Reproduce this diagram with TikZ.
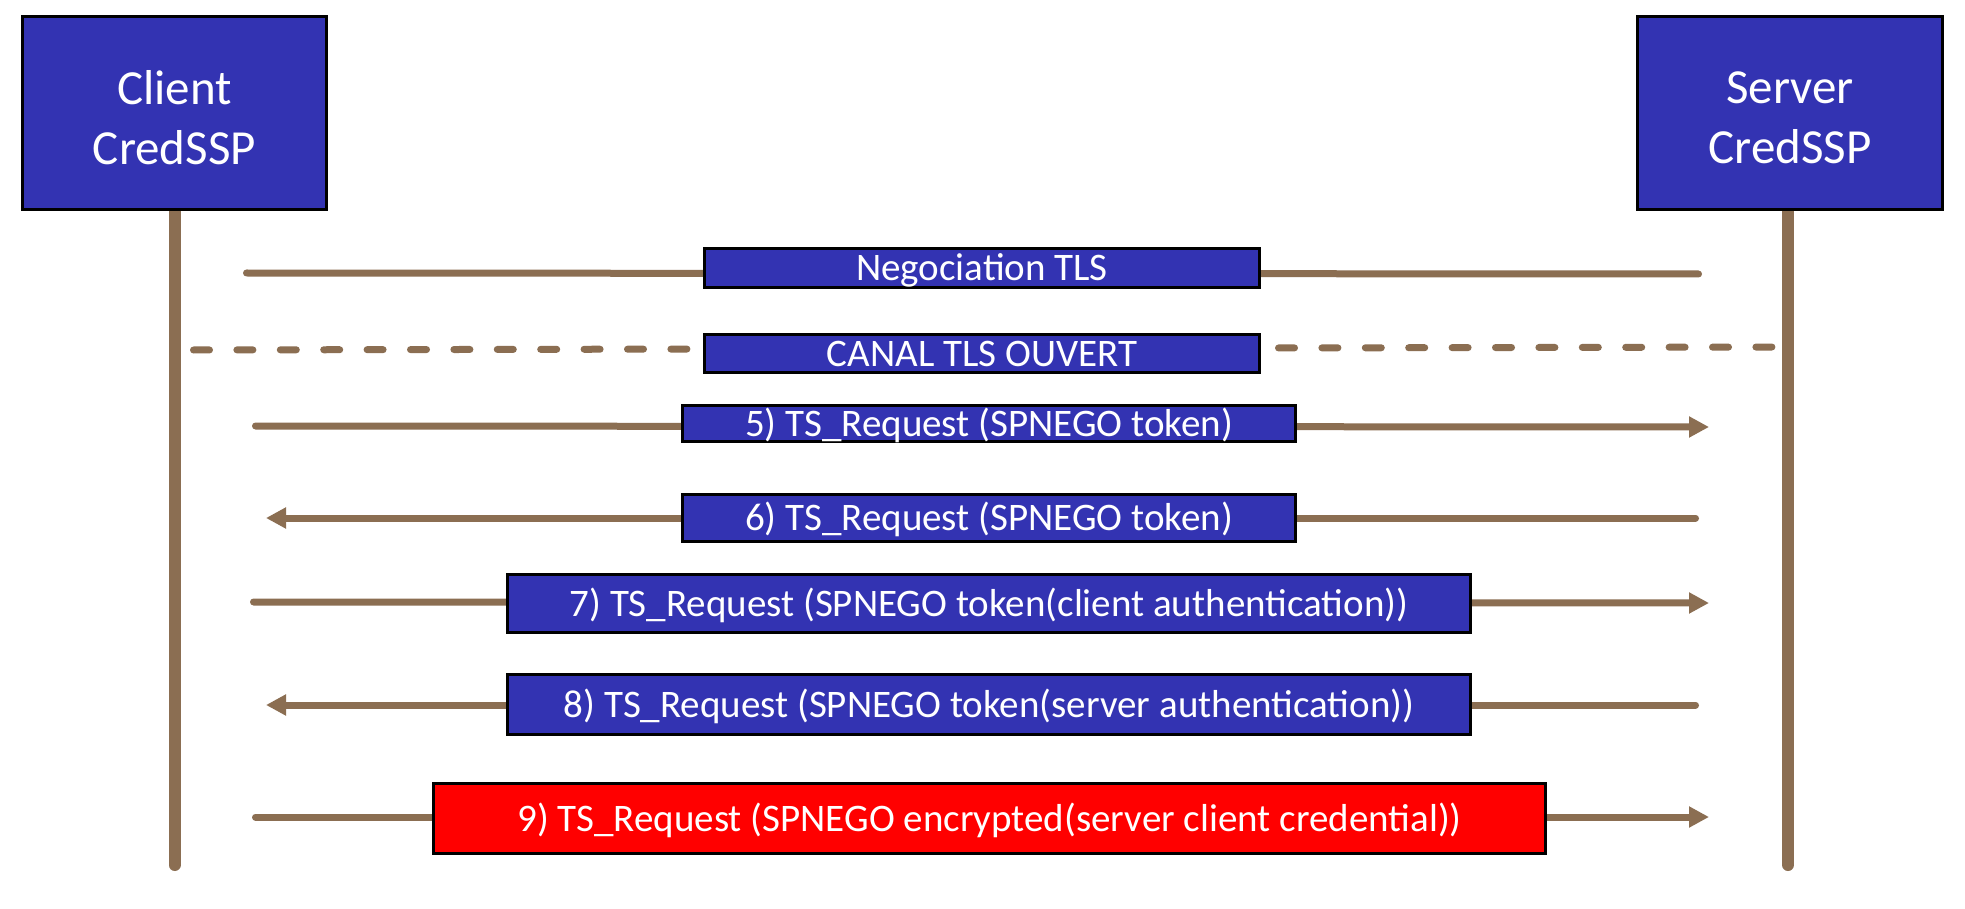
\documentclass[tikz,border=0pt]{standalone}
\usepackage{fontspec}
\setmainfont{Carlito}
\usetikzlibrary{arrows.meta,backgrounds}
\definecolor{boxblue}{RGB}{51,51,178}
\definecolor{linebrown}{RGB}{139,110,82}
\definecolor{alertred}{RGB}{255,0,0}
\begin{document}
\begin{tikzpicture}[x=1pt,y=-1pt,
  actor/.style={draw=black, line width=3pt, fill=boxblue, minimum width=304pt, minimum height=193pt, inner sep=0pt},
  actortext/.style={text=white, align=center, font=\fontsize{49}{60}\selectfont, inner sep=0pt},
  msg/.style={draw=black, line width=3pt, fill=boxblue, text=white, font=\fontsize{39}{47}\selectfont, inner sep=0pt, text height=25pt, text depth=0pt},
  alertmsg/.style={msg, fill=alertred},
  lifeline/.style={draw=linebrown, line width=12pt, line cap=round},
  flow/.style={draw=linebrown, line width=7pt, line cap=round},
  arrowflow/.style={flow, -{Triangle[length=20pt,width=20pt]}},
  channel/.style={flow, dash pattern=on 16pt off 27.4pt}
]
\useasboundingbox (0,0) rectangle (1965,909);

% actors
\node[actor] (client) at (174.5,113) {};
\node[actortext] (clienttxt) at ([yshift=-5pt]client.center) {Client\\CredSSP};
\node[actor, minimum width=305pt] (server) at (1790,113) {};
\node[actortext] (servertxt) at ([yshift=-5pt]server.center) {Server\\CredSSP};

% message boxes
\node[msg, minimum width=555pt, minimum height=39pt] (neg) at (982,268) {Negociation TLS};
\node[msg, minimum width=555pt, minimum height=38pt] (canal) at (982,353.5) {CANAL TLS OUVERT};
\node[msg, minimum width=613pt, minimum height=36pt] (m5) at (989,423.5) {5) TS\_Request (SPNEGO token)};
\node[msg, minimum width=613pt, minimum height=47pt] (m6) at (989,518) {6) TS\_Request (SPNEGO token)};
\node[msg, minimum width=963pt, minimum height=58pt] (m7) at (989,603.5) {7) TS\_Request (SPNEGO token(client authentication))};
\node[msg, minimum width=963pt, minimum height=60pt] (m8) at (989,704.5) {8) TS\_Request (SPNEGO token(server authentication))};
\node[alertmsg, minimum width=1112pt, minimum height=70pt] (m9) at (989.5,818.5) {9) TS\_Request (SPNEGO encrypted(server client credential))};

% free ends
\coordinate (clientend) at (174.5,865);
\coordinate (serverend) at (1788,865);
\coordinate (negL) at (246.5,273);
\coordinate (negR) at (1698.5,274);
\coordinate (chanL) at (193.5,350);
\coordinate (chanR) at (1786,347);
\coordinate (a5L) at (255.5,426);
\coordinate (a5R) at (1709,427);
\coordinate (a6R) at (1695.5,518);
\coordinate (a6L) at (266,518);
\coordinate (a7L) at (253.5,602);
\coordinate (a7R) at (1709,603);
\coordinate (a8R) at (1695.5,705);
\coordinate (a8L) at (266,705);
\coordinate (a9L) at (255.5,817);
\coordinate (a9R) at (1709,817);

\begin{scope}[on background layer]
  \fill[white] (0,0) rectangle (1965,909);
  \draw[flow] (negL) -- (negR);
  \draw[channel] (chanL) -- (chanR);
  \draw[arrowflow] (a5L) -- (a5R);
  \draw[arrowflow] (a6R) -- (a6L);
  \draw[arrowflow] (a7L) -- (a7R);
  \draw[arrowflow] (a8R) -- (a8L);
  \draw[arrowflow] (a9L) -- (a9R);
  \draw[lifeline] (client.south) -- (clientend);
  \draw[lifeline] (server.south -| serverend) -- (serverend);
\end{scope}
\end{tikzpicture}
\end{document}
